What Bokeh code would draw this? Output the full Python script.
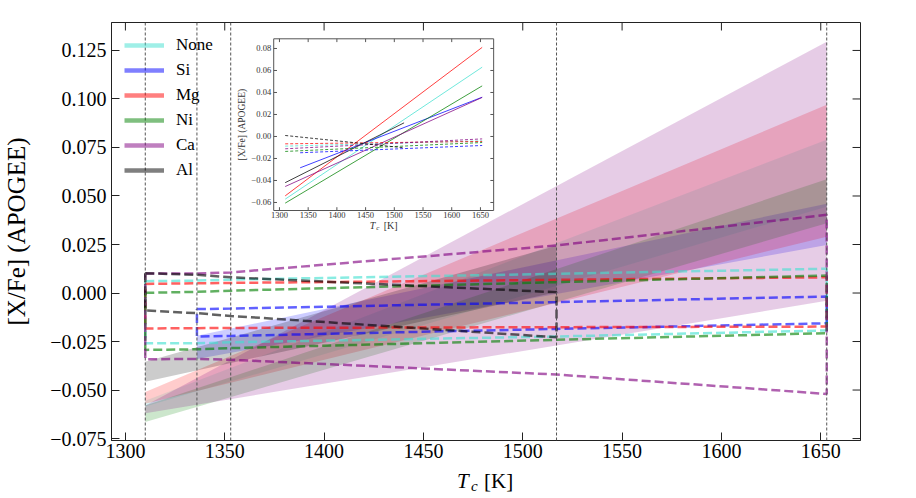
import math
from bokeh.plotting import figure
from bokeh.layouts import column
from bokeh.models import Range1d, FixedTicker, Span, Legend, LegendItem
from bokeh.embed import file_html
from bokeh.resources import INLINE
from bokeh.core.properties import value

FONT = "Liberation Serif"

# ---------------- data ----------------
cases = ["None", "Si", "Mg", "Ni", "Ca", "Al"]
colors = ["#40E0D0", "#0000FF", "#FF0000", "#008000", "#800080", "#000000"]

tc_elements = ["Si", "Mg", "Ni", "Ca", "Al"]
tc_values = [1310, 1336, 1353, 1517, 1653]

# Tc span covered by each case (element removed)
case_tmin = [1310, 1336, 1310, 1310, 1310, 1310]
case_tmax = [1653, 1653, 1653, 1653, 1653, 1517]

# shaded bands: lower / upper edge at start and end of the span
band_lo_start = [-0.0585, -0.0340, -0.0570, -0.0665, -0.0620, -0.0457]
band_hi_start = [-0.0555, -0.0220, -0.0510, -0.0580, -0.0580, -0.0354]
band_lo_end = [0.0445, 0.0247, 0.0290, 0.0360, -0.0040, 0.0004]
band_hi_end = [0.0790, 0.0460, 0.0970, 0.0586, 0.1295, 0.0244]

# dashed envelopes, evaluated at each Tc inside the case span
none_upper = [0.0061, 0.0064, 0.0069, 0.0099, 0.0125]
none_lower = [-0.0259, -0.0259, -0.0254, -0.0224, -0.0193]
si_upper = [-0.0083, -0.0080, -0.0047, -0.0018]
si_lower = [-0.0224, -0.0221, -0.0185, -0.0156]
mg_upper = [0.0047, 0.0050, 0.0052, 0.0068, 0.0081]
mg_lower = [-0.0183, -0.0181, -0.0180, -0.0176, -0.0173]
ni_upper = [0.0001, 0.0006, 0.0012, 0.0056, 0.0090]
ni_lower = [-0.0293, -0.0290, -0.0284, -0.0241, -0.0207]
ca_upper = [0.0100, 0.0101, 0.0106, 0.0245, 0.0403]
ca_lower = [-0.0341, -0.0340, -0.0344, -0.0420, -0.0520]
al_upper = [0.0102, 0.0094, 0.0081, 0.0004]
al_lower = [-0.0090, -0.0104, -0.0118, -0.0228]

# inset: fitted trends (solid) and flat comparison fits (dashed)
inset_fit_start = [-0.0570, -0.0285, -0.0540, -0.0606, -0.0455, -0.0420]
inset_fit_end = [0.0630, 0.0357, 0.0810, 0.0460, 0.0355, 0.0124]
inset_flat_start = [-0.0088, -0.0148, -0.0067, -0.0136, -0.0112, 0.0009]
inset_flat_end = [-0.0040, -0.0082, -0.0045, -0.0055, -0.0022, -0.0103]

# ticks
x_ticks = [1300, 1350, 1400, 1450, 1500, 1550, 1600, 1650]
y_ticks = [-0.075, -0.05, -0.025, 0.0, 0.025, 0.05, 0.075, 0.1, 0.125]
y_tick_labels = ["\u22120.075", "\u22120.050", "\u22120.025", "0.000", "0.025",
                 "0.050", "0.075", "0.100", "0.125"]
inset_x_ticks = [1300, 1350, 1400, 1450, 1500, 1550, 1600, 1650]
inset_x_labels = ["1300", "1350", "1400", "1450", "1500", "1550", "1600", "1650"]
inset_y_ticks = [-0.06, -0.04, -0.02, 0.0, 0.02, 0.04, 0.06, 0.08]
inset_y_labels = ["\u22120.06", "\u22120.04", "\u22120.02", "0.00", "0.02",
                  "0.04", "0.06", "0.08"]

# axis limits
x_lim = (1293, 1670)
y_lim = (-0.0760, 0.1394)
inset_x_lim = (1290.0, 1673.0)
inset_y_lim = (-0.0673, 0.0888)

# ---------------- figure ----------------
FW, FH = 754, 418
BL, BR, BT, BB = 106, 40, 22, 28
XLAB_H = 30

p = figure(width=BL + FW + BR, height=BT + FH + BB,
           x_range=Range1d(*x_lim), y_range=Range1d(*y_lim),
           min_border_left=BL, min_border_right=BR,
           min_border_top=BT, min_border_bottom=BB,
           output_backend="svg", toolbar_location=None)
p.xgrid.visible = False
p.ygrid.visible = False
p.outline_line_color = "#222222"
p.outline_line_width = 1
p.background_fill_color = "white"
p.border_fill_color = "white"

# inset placement (pixels inside the frame)
IN_L, IN_R, IN_T, IN_B = 163.3, 384.7, 16.3, 188.0
kx = (inset_x_lim[1] - inset_x_lim[0]) / (IN_R - IN_L)
ky = (inset_y_lim[1] - inset_y_lim[0]) / (IN_B - IN_T)
ix0 = inset_x_lim[0] - IN_L * kx
iy1 = inset_y_lim[1] + IN_T * ky
p.extra_x_ranges = {"ix": Range1d(ix0, ix0 + FW * kx)}
p.extra_y_ranges = {"iy": Range1d(iy1 - FH * ky, iy1)}

# main px scales
mkx = (x_lim[1] - x_lim[0]) / FW
mky = (y_lim[1] - y_lim[0]) / FH

# ---- shaded bands ----
for i in range(len(cases)):
    p.varea(x=[case_tmin[i], case_tmax[i]],
            y1=[band_lo_start[i], band_lo_end[i]],
            y2=[band_hi_start[i], band_hi_end[i]],
            fill_color=colors[i], fill_alpha=0.2)

# ---- dashed envelopes ----
uppers = [none_upper, si_upper, mg_upper, ni_upper, ca_upper, al_upper]
lowers = [none_lower, si_lower, mg_lower, ni_lower, ca_lower, al_lower]
for i in range(len(cases)):
    xs = [t for t in tc_values if case_tmin[i] <= t <= case_tmax[i]]
    px = xs + xs[::-1] + [xs[0]]
    py = uppers[i] + lowers[i][::-1] + [uppers[i][0]]
    p.line(px, py, line_color=colors[i], line_alpha=0.62, line_width=2.5,
           line_dash="9 4")

# ---- vertical Tc markers ----
for t in tc_values:
    p.add_layout(Span(location=t, dimension="height", line_color="#555555",
                      line_width=1, line_dash="3 2"))

# ---- top / right inward ticks of the main frame ----
p.segment(x0=x_ticks, x1=x_ticks, y0=[y_lim[1]] * len(x_ticks),
          y1=[y_lim[1] - 8 * mky] * len(x_ticks), line_color="#222222", line_width=1)
p.segment(x0=[x_lim[1]] * len(y_ticks), x1=[x_lim[1] - 8 * mkx] * len(y_ticks),
          y0=y_ticks, y1=y_ticks, line_color="#222222", line_width=1)

# ---- legend (style carriers, no visible data) ----
items = []
for i, c in enumerate(cases):
    r = p.line(x=[math.nan], y=[math.nan], line_color=colors[i], line_alpha=0.5,
               line_width=4.5)
    items.append(LegendItem(label=c, renderers=[r]))
leg = Legend(items=items, location="top_left", margin=0, padding=13,
             background_fill_alpha=0, border_line_alpha=0,
             label_text_font=FONT, label_text_font_size="17px",
             label_text_color="black",
             glyph_width=40, glyph_height=20, label_height=20, spacing=5,
             label_standoff=12)
p.add_layout(leg)

# ---- inset ----
p.quad(left=[inset_x_lim[0]], right=[inset_x_lim[1]],
       bottom=[inset_y_lim[0]], top=[inset_y_lim[1]],
       x_range_name="ix", y_range_name="iy",
       fill_color="white", line_color="#555555", line_width=1)
tl = 3.3
n = len(inset_x_ticks)
p.segment(x0=inset_x_ticks, x1=inset_x_ticks, y0=[inset_y_lim[0]] * n,
          y1=[inset_y_lim[0] + tl * ky] * n, x_range_name="ix", y_range_name="iy",
          line_color="#555555", line_width=1)
p.segment(x0=inset_x_ticks, x1=inset_x_ticks, y0=[inset_y_lim[1]] * n,
          y1=[inset_y_lim[1] - tl * ky] * n, x_range_name="ix", y_range_name="iy",
          line_color="#555555", line_width=1)
m = len(inset_y_ticks)
p.segment(x0=[inset_x_lim[0]] * m, x1=[inset_x_lim[0] + tl * kx] * m,
          y0=inset_y_ticks, y1=inset_y_ticks, x_range_name="ix", y_range_name="iy",
          line_color="#555555", line_width=1)
p.segment(x0=[inset_x_lim[1]] * m, x1=[inset_x_lim[1] - tl * kx] * m,
          y0=inset_y_ticks, y1=inset_y_ticks, x_range_name="ix", y_range_name="iy",
          line_color="#555555", line_width=1)

for i in range(len(cases)):
    p.line([case_tmin[i], case_tmax[i]], [inset_fit_start[i], inset_fit_end[i]],
           x_range_name="ix", y_range_name="iy",
           line_color=colors[i], line_alpha=0.75, line_width=1)
for i in range(len(cases)):
    p.line([case_tmin[i], case_tmax[i]], [inset_flat_start[i], inset_flat_end[i]],
           x_range_name="ix", y_range_name="iy",
           line_color=colors[i], line_alpha=0.75, line_width=1, line_dash="3 2")

p.text(x=inset_x_ticks, y=[inset_y_lim[0]] * n, text=inset_x_labels,
       x_range_name="ix", y_range_name="iy", y_offset=1.5,
       text_align="center", text_baseline="top", text_font=value(FONT),
       text_font_size="8.5px", text_color="#333333")
p.text(x=[inset_x_lim[0]] * m, y=inset_y_ticks, text=inset_y_labels,
       x_range_name="ix", y_range_name="iy", x_offset=-2.5,
       text_align="right", text_baseline="middle", text_font=value(FONT),
       text_font_size="8.5px", text_color="#333333")
icx = (inset_x_lim[0] + inset_x_lim[1]) / 2
icy = (inset_y_lim[0] + inset_y_lim[1]) / 2
p.text(x=[inset_x_lim[0]], y=[icy], text=["[X/Fe] (APOGEE)"],
       x_range_name="ix", y_range_name="iy", x_offset=-32, angle=math.pi / 2,
       text_align="center", text_baseline="middle", text_font=value(FONT),
       text_font_size="9.5px", text_color="#333333")
p.text(x=[icx], y=[inset_y_lim[0]], text=["T"], x_range_name="ix", y_range_name="iy",
       x_offset=-14, y_offset=14.5, text_align="left", text_baseline="middle",
       text_font=value(FONT), text_font_style="italic", text_font_size="10px",
       text_color="#333333")
p.text(x=[icx], y=[inset_y_lim[0]], text=["c"], x_range_name="ix", y_range_name="iy",
       x_offset=-7.5, y_offset=17.0, text_align="left", text_baseline="middle",
       text_font=value(FONT), text_font_style="italic", text_font_size="7px",
       text_color="#333333")
p.text(x=[icx], y=[inset_y_lim[0]], text=["[K]"], x_range_name="ix", y_range_name="iy",
       x_offset=0, y_offset=14.5, text_align="left", text_baseline="middle",
       text_font=value(FONT), text_font_size="10px", text_color="#333333")

# ---- main axes ----
xa = p.xaxis[0]
xa.ticker = FixedTicker(ticks=x_ticks)
ya = p.yaxis[0]
ya.ticker = FixedTicker(ticks=y_ticks)
ya.major_label_overrides = {t: l for t, l in zip(y_ticks, y_tick_labels)}
for ax in (xa, ya):
    ax.major_tick_in = 8
    ax.major_tick_out = 0
    ax.minor_tick_in = 0
    ax.minor_tick_out = 0
    ax.axis_line_color = "#222222"
    ax.major_tick_line_color = "#222222"
    ax.major_label_text_font = FONT
    ax.major_label_text_font_size = "20px"
    ax.major_label_text_color = "black"
xa.major_label_standoff = 3
ya.major_label_standoff = 5
ya.axis_label = "[X/Fe] (APOGEE)"
ya.axis_label_text_font = FONT
ya.axis_label_text_font_size = "25px"
ya.axis_label_text_font_style = "normal"
ya.axis_label_text_color = "black"
ya.axis_label_standoff = 17

# ---- x-axis title strip (T_c [K]) sharing the x scale ----
q = figure(width=BL + FW + BR, height=XLAB_H, x_range=p.x_range,
           y_range=Range1d(0, XLAB_H), x_axis_location=None, y_axis_location=None,
           min_border_left=BL, min_border_right=BR, min_border_top=0,
           min_border_bottom=0, output_backend="svg", toolbar_location=None)
q.xgrid.visible = False
q.ygrid.visible = False
q.outline_line_color = None
q.background_fill_color = "white"
q.border_fill_color = "white"
xc = (x_lim[0] + x_lim[1]) / 2
q.text(x=[xc], y=[17.3], text=["T"], x_offset=-29, text_align="left",
       text_baseline="middle", text_font=value(FONT), text_font_style="italic",
       text_font_size="21px", text_color="black")
q.text(x=[xc], y=[13.0], text=["c"], x_offset=-15, text_align="left",
       text_baseline="middle", text_font=value(FONT), text_font_style="italic",
       text_font_size="15px", text_color="black")
q.text(x=[xc], y=[17.3], text=["[K]"], x_offset=-2, text_align="left",
       text_baseline="middle", text_font=value(FONT),
       text_font_size="21px", text_color="black")

layout = column(p, q, spacing=0)
open("out.html", "w").write(file_html(layout, INLINE))
